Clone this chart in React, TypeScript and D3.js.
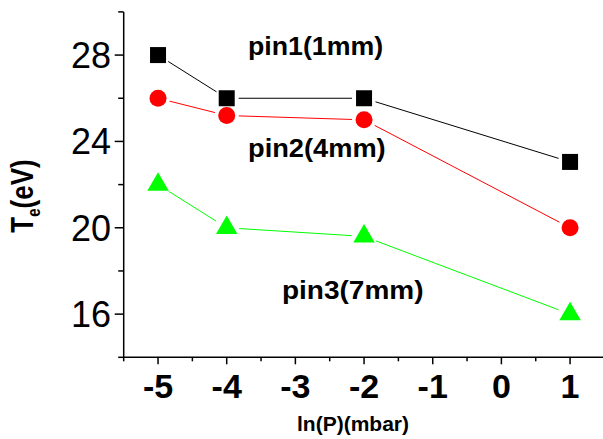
import React from "react";
import * as d3 from "d3";

const xVals = [-5, -4, -2, 1];
const pin1 = [28, 26, 26, 23.05];
const pin2 = [26, 25.2, 25, 20];
const pin3 = [22, 20, 19.6, 16];
const xMajor = [-5, -4, -3, -2, -1, 0, 1];
const xMinor = [-5.5, -4.5, -3.5, -2.5, -1.5, -0.5, 0.5, 1.5];
const yMajor = [16, 20, 24, 28];
const yMinor = [14, 18, 22, 26, 30];
const labels = ["pin1(1mm)", "pin2(4mm)", "pin3(7mm)"];

const W = 603;
const H = 439;
const x = d3.scaleLinear().domain([-5.5, 1.5]).range([123.7, 604.4]);
const y = d3.scaleLinear().domain([14, 30]).range([357.3, 11.9]);

function segs(vals: number[], gap: number) {
  const pts = xVals.map((v, i) => [x(v), y(vals[i])]);
  const out: number[][] = [];
  for (let i = 0; i < pts.length - 1; i++) {
    const [x1, y1] = pts[i];
    const [x2, y2] = pts[i + 1];
    const len = Math.hypot(x2 - x1, y2 - y1);
    const ux = (x2 - x1) / len, uy = (y2 - y1) / len;
    out.push([x1 + ux * gap, y1 + uy * gap, x2 - ux * gap, y2 - uy * gap]);
  }
  return out;
}

export default function App() {
  const font = "'Liberation Sans', Arial, sans-serif";
  const series = [
    { vals: pin1, color: "#000000", shape: "square" },
    { vals: pin2, color: "#ff0000", shape: "circle" },
    { vals: pin3, color: "#00ff00", shape: "triangle" },
  ];
  return (
    <svg width={W} height={H} style={{ position: "absolute", left: 0, top: 0, display: "block" }} fontFamily={font}>
      <rect width={W} height={H} fill="#fff" />
      {/* axes */}
      <line x1={x(-5.5)} x2={W} y1={y(14)} y2={y(14)} stroke="#000" strokeWidth={1.5} />
      <line x1={x(-5.5)} x2={x(-5.5)} y1={y(30)} y2={y(14)} stroke="#000" strokeWidth={1.5} />
      {yMajor.map((t) => (
        <g key={"ym" + t}>
          <line x1={x(-5.5) - 9} x2={x(-5.5)} y1={y(t)} y2={y(t)} stroke="#000" strokeWidth={1.5} />
          <text x={111} y={y(t) + 12.9} fontSize={36} textAnchor="end">{t}</text>
        </g>
      ))}
      {yMinor.map((t) => (
        <line key={"yn" + t} x1={x(-5.5) - 5.5} x2={x(-5.5)} y1={y(t)} y2={y(t)} stroke="#000" strokeWidth={1.5} />
      ))}
      {xMajor.map((t) => (
        <g key={"xm" + t}>
          <line x1={x(t)} x2={x(t)} y1={y(14)} y2={y(14) + 7} stroke="#000" strokeWidth={1.5} />
          <text x={x(t)} y={398} fontSize={34} fontWeight="bold" textAnchor="middle">{t}</text>
        </g>
      ))}
      {xMinor.map((t) => (
        <line key={"xn" + t} x1={x(t)} x2={x(t)} y1={y(14)} y2={y(14) + 4} stroke="#000" strokeWidth={1.5} />
      ))}
      {/* axis titles */}
      <text x={353} y={431} fontSize={21} fontWeight="bold" textAnchor="middle">ln(P)(mbar)</text>
      <text transform="translate(33,196) rotate(-90) scale(1,1.22)" fontSize={26} fontWeight="bold" textAnchor="middle">
        T<tspan fontSize={15} dy={6}>e</tspan><tspan dy={-6}>(eV)</tspan>
      </text>
      {/* lines */}
      {series.map((s, si) =>
        segs(s.vals, s.shape === "triangle" ? 12.5 : 12).map((sg, i) => (
          <line key={"l" + si + i} x1={sg[0]} y1={sg[1]} x2={sg[2]} y2={sg[3]} stroke={s.color} strokeWidth={1} />
        ))
      )}
      {/* markers */}
      {series.map((s, si) =>
        xVals.map((v, i) => {
          const cx = x(v), cy = y(s.vals[i]);
          if (s.shape === "square")
            return <rect key={"m" + si + i} x={cx - 8} y={cy - 8} width={16} height={16} fill={s.color} />;
          if (s.shape === "circle")
            return <circle key={"m" + si + i} cx={cx} cy={cy} r={8.5} fill={s.color} />;
          const h = 18.5, w = 21.5;
          const p = `M${cx},${cy - (2 * h) / 3}L${cx + w / 2},${cy + h / 3}L${cx - w / 2},${cy + h / 3}Z`;
          return <path key={"m" + si + i} d={p} fill={s.color} />;
        })
      )}
      {/* annotations */}
      <text transform="translate(248,55) scale(1.07,1)" fontSize={25} fontWeight="bold">{labels[0]}</text>
      <text transform="translate(248,157) scale(1.09,1)" fontSize={25} fontWeight="bold">{labels[1]}</text>
      <text transform="translate(282,299) scale(1.12,1)" fontSize={25} fontWeight="bold">{labels[2]}</text>
    </svg>
  );
}
